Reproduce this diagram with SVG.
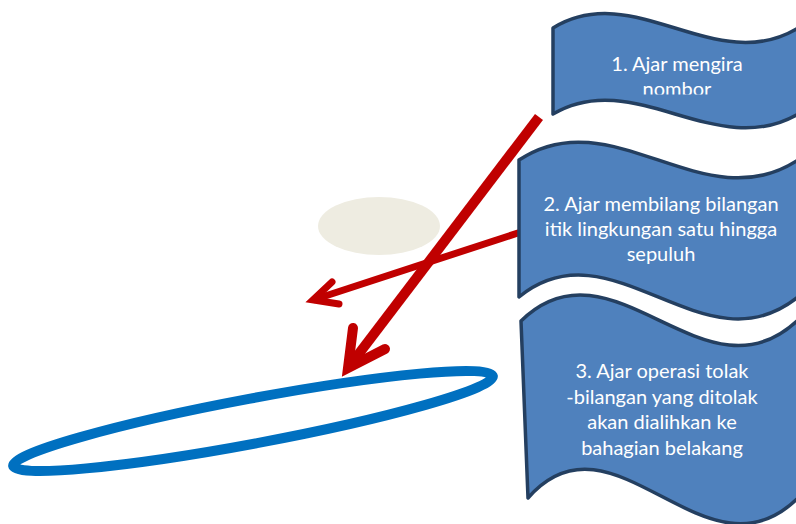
<svg xmlns="http://www.w3.org/2000/svg" width="796" height="524" viewBox="0 0 796 524">
<defs>
<style>
.wave{fill:#4F81BD;stroke:#243F60;stroke-width:3.5;stroke-linejoin:round}
.lbl{font-family:Lato,"Open Sans","Liberation Sans",sans-serif;font-size:20px;fill:#FFFFFF;text-anchor:middle}
.red{fill:none;stroke:#C00000;stroke-linecap:butt}
.head{fill:none;stroke:#C00000;stroke-linecap:round;stroke-linejoin:miter;stroke-miterlimit:10}
</style>
<clipPath id="clip1"><rect x="553" y="0" width="243" height="94.5"/></clipPath>
</defs>
<rect width="796" height="524" fill="#FFFFFF"/>
<g id="ellipse-beige"><ellipse cx="379" cy="226" rx="61" ry="29" fill="#EEECE1"/></g>
<g id="ellipse-blue"><ellipse cx="253" cy="421" rx="244" ry="22.5" fill="none" stroke="#0070C0" stroke-width="10" transform="rotate(-10.6 253 421)"/></g>
<g id="connectors">
<path class="red" stroke-width="10" d="M539,117 L348,368"/>
<path class="head" stroke-width="10" d="M353,328 L348,368 L385,349"/>
<path class="red" stroke-width="7" d="M521,232 L313,300"/>
<path class="head" stroke-width="7" d="M332,282 L313,300 L339,304"/>
</g>
<g id="node1">
<path class="wave" d="M553,28 C634,-22 716,78 798,28 L798,114 C716,162 634,66 553,114 Z"/>
<g clip-path="url(#clip1)">
<text class="lbl" x="677" y="71">1. Ajar mengira</text>
<text class="lbl" x="677" y="96">nombor</text>
</g>
</g>
<g id="node2">
<path class="wave" d="M519,160 C612,98 704,222 798,160 L798,297 C704,373 612,221 519,297 Z"/>
<text class="lbl" x="661" y="211">2. Ajar membilang bilangan</text>
<text class="lbl" x="661" y="236">itik lingkungan satu hingga</text>
<text class="lbl" x="661" y="261">sepuluh</text>
</g>
<g id="node3">
<path class="wave" d="M521,321 C613,231 706,411 800,318 L800,496 C707,592 614,400 528,498 Z"/>
<text class="lbl" x="662" y="378">3. Ajar operasi tolak</text>
<text class="lbl" x="662" y="403.5">-bilangan yang ditolak</text>
<text class="lbl" x="662" y="429">akan dialihkan ke</text>
<text class="lbl" x="662" y="454.5">bahagian belakang</text>
</g>
</svg>
